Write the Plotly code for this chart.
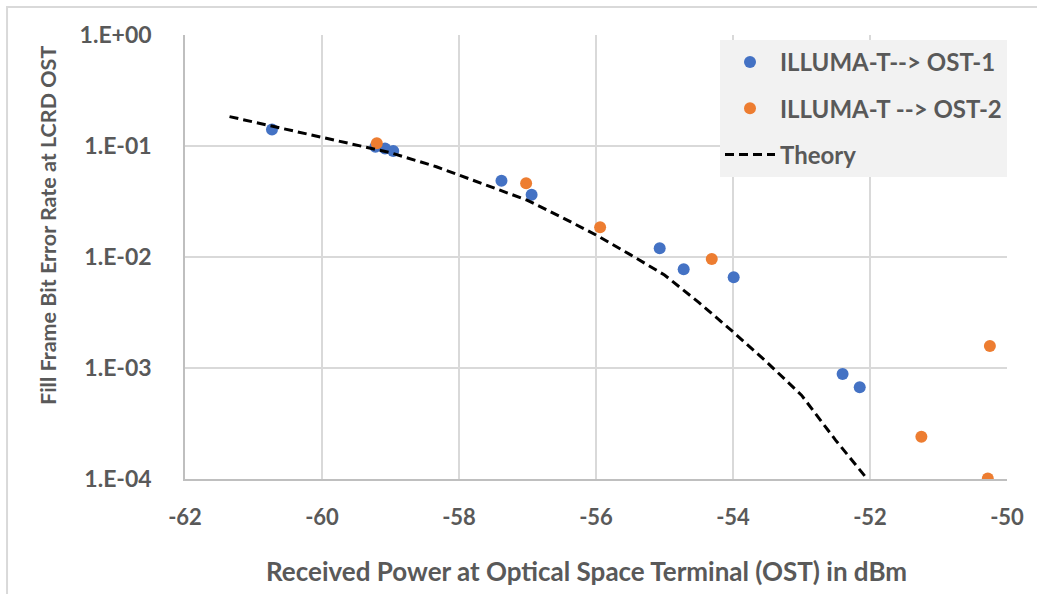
import plotly.graph_objects as go

# ---- data ----
ost1_x = [-60.73, -59.22, -59.08, -58.96, -57.38, -56.94, -55.07, -54.72, -53.99, -52.40, -52.15]
ost1_y = [0.141, 0.0986, 0.095, 0.090, 0.0487, 0.0364, 0.0120, 0.00775, 0.00656, 0.000883, 0.00067]

ost2_x = [-59.20, -57.02, -55.94, -54.31, -51.25, -50.25, -50.28]
ost2_y = [0.106, 0.0461, 0.0185, 0.0096, 0.000240, 0.00158, 0.000101]

theory_x = [-61.35, -60.5, -60.0, -59.5, -59.0, -58.33, -58.0, -57.5, -57.0, -56.5, -56.0,
            -55.5, -55.0, -54.5, -54.0, -53.5, -53.0, -52.5, -52.04]
theory_y = [0.184, 0.140, 0.119, 0.101, 0.087, 0.065, 0.0548, 0.0422, 0.0324, 0.0228, 0.0158,
            0.0105, 0.00689, 0.0039, 0.00212, 0.00112, 0.000569, 0.000223, 0.0001]

x_tickvals = [-62, -60, -58, -56, -54, -52, -50]
x_ticktext = ["-62", "-60", "-58", "-56", "-54", "-52", "-50"]
y_tickvals = [1, 0.1, 0.01, 0.001, 0.0001]
y_ticktext = ["1.E+00", "1.E-01", "1.E-02", "1.E-03", "1.E-04"]

names = ["ILLUMA-T--> OST-1", "ILLUMA-T --> OST-2", "Theory"]
x_title = "Received Power at Optical Space Terminal (OST) in dBm"
y_title = "Fill Frame Bit Error Rate at LCRD OST"

GRAY = "#595959"
FONT = "Lato"

fig = go.Figure()
fig.add_trace(go.Scatter(x=ost1_x, y=ost1_y, mode="markers", name=names[0],
                         legendgroup="a",
                         marker=dict(color="#4472C4", size=12)))
fig.add_trace(go.Scatter(x=ost2_x, y=ost2_y, mode="markers", name=names[1],
                         legendgroup="b",
                         marker=dict(color="#ED7D31", size=12)))
fig.add_trace(go.Scatter(x=theory_x, y=theory_y, mode="lines", name=names[2],
                         legendgroup="c",
                         line=dict(color="black", width=3, dash="9px,5px")))

fig.update_layout(
    width=1037, height=594,
    margin=dict(l=185, r=30, t=35, b=115),
    paper_bgcolor="white", plot_bgcolor="white",
    font=dict(family=FONT, color=GRAY, size=22),
    showlegend=True,
    legend=dict(x=1, xanchor="right", y=0.989, yanchor="top",
                bgcolor="#f2f2f2", borderwidth=0,
                font=dict(family=FONT, size=24, color=GRAY, weight="bold"),
                tracegroupgap=12, traceorder="grouped",
                itemwidth=50),
    xaxis=dict(range=[-62, -50], tickvals=x_tickvals, ticktext=x_ticktext, showgrid=True,
               gridcolor="#d9d9d9", gridwidth=1.5, zeroline=False,
               showline=True, linecolor="#bfbfbf", linewidth=1.5,
               ticks="", ticklabelstandoff=18,
               tickfont=dict(family=FONT, size=22, color=GRAY, weight="bold")),
    yaxis=dict(type="log", range=[-4, 0], tickvals=y_tickvals, ticktext=y_ticktext,
               showgrid=True, gridcolor="#d9d9d9", gridwidth=1.5, zeroline=False,
               showline=True, linecolor="#bfbfbf", linewidth=1.5,
               ticks="", ticklabelstandoff=27,
               tickfont=dict(family=FONT, size=23, color=GRAY, weight="bold")),
    annotations=[
        dict(text=x_title, xref="paper", yref="paper", x=0.488, y=-0.207,
             xanchor="center", yanchor="middle", showarrow=False,
             font=dict(family=FONT, size=26, color=GRAY, weight="bold")),
        dict(text=y_title, xref="paper", yref="paper", x=-0.1667, y=0.572,
             xanchor="center", yanchor="middle", showarrow=False, textangle=-90,
             font=dict(family=FONT, size=21.5, color=GRAY, weight="bold")),
    ],
    shapes=[dict(type="rect", xref="paper", yref="paper",
                 x0=-0.2165, x1=1.05, y0=-0.3, y1=1.063,
                 line=dict(color="#d9d9d9", width=2), layer="below")],
)

fig.write_html("out.html", config={"displayModeBar": False},
               post_script="document.body.style.margin='0';document.body.style.overflow='hidden';")
